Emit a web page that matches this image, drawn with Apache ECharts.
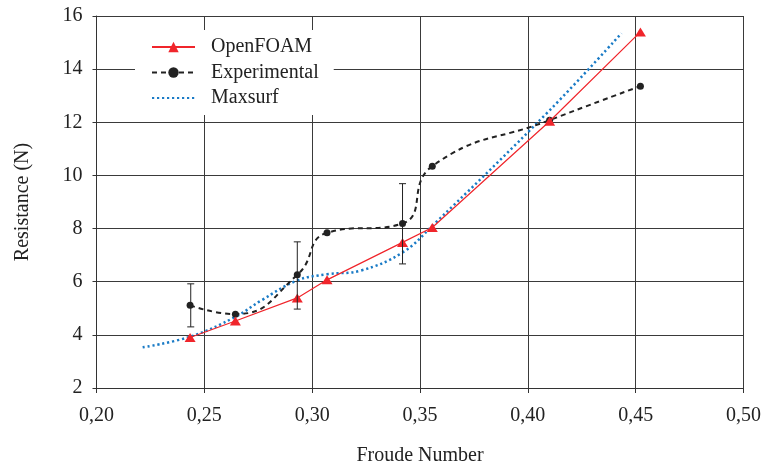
<!DOCTYPE html>
<html>
<head>
<meta charset="utf-8">
<script src="https://cdn.jsdelivr.net/npm/echarts@6/dist/echarts.min.js"></script>
<style>html,body{margin:0;padding:0;background:#fff}#c{width:764px;height:471px}</style>
</head>
<body>
<div id="c"></div>
<script>
// Froude numbers of the CFD / experimental runs
const froudeRuns = [0.2434, 0.2644, 0.2931, 0.3069, 0.3419, 0.3557, 0.4101, 0.4522];
const openFoam = [3.90, 4.52, 5.39, 6.07, 7.48, 8.04, 12.04, 15.40];
const experimental = [5.11, 4.78, 6.26, 7.84, 8.19, 10.35, 12.08, 13.36];
// error bars on experimental data
const errFroude = [0.2437, 0.2931, 0.3419];
const errLow = [4.30, 4.97, 6.67];
const errHigh = [5.92, 7.50, 9.69];
// Maxsurf prediction
const froudeMaxsurf = [0.2214, 0.2434, 0.2645, 0.2765, 0.2931, 0.3069, 0.3226, 0.3419, 0.3557, 0.4101, 0.4434];
const maxsurf = [3.53, 3.93, 4.68, 5.30, 6.05, 6.28, 6.42, 7.10, 8.10, 12.45, 15.35];
// axes
const xMin = 0.20, xMax = 0.50, xStep = 0.05;
const yMin = 2, yMax = 16, yStep = 2;

const FONT = '"Liberation Serif", "DejaVu Serif", serif';
const FS = 20;
const pairs = (xs, ys) => xs.map((x, i) => [x, ys[i]]);

const chart = echarts.init(document.getElementById('c'), null, {renderer: 'canvas'});
chart.setOption({
  animation: false,
  backgroundColor: '#fff',
  textStyle: {fontFamily: FONT},
  grid: {left: 96.5, right: 17.5, top: 16, bottom: 79, containLabel: false},
  legend: {
    orient: 'vertical',
    left: 135, top: 30,
    padding: [7, 15, 7, 16],
    backgroundColor: '#fff',
    itemWidth: 43, itemHeight: 13, itemGap: 5.5,
    data: ['OpenFOAM', 'Experimental', 'Maxsurf'],
    textStyle: {fontFamily: FONT, fontSize: FS, color: '#222', padding: [0, 0, 0, 11]}
  },
  xAxis: {
    type: 'value', min: xMin, max: xMax, interval: xStep,
    name: 'Froude Number', nameLocation: 'middle', nameGap: 58,
    nameTextStyle: {fontFamily: FONT, fontSize: FS, color: '#222'},
    axisLine: {show: true, lineStyle: {color: '#333', width: 1}},
    axisTick: {show: true, inside: false, length: 5, lineStyle: {color: '#333'}},
    axisLabel: {fontFamily: FONT, fontSize: FS, color: '#222', margin: 18,
      formatter: v => v.toFixed(2).replace('.', ',')},
    splitLine: {show: true, lineStyle: {color: '#3a3a3a', width: 1}}
  },
  yAxis: {
    type: 'value', min: yMin, max: yMax, interval: yStep,
    name: 'Resistance (N)', nameLocation: 'middle', nameGap: 64, nameRotate: 90,
    nameTextStyle: {fontFamily: FONT, fontSize: FS, color: '#222'},
    axisLine: {show: true, lineStyle: {color: '#333', width: 1}},
    axisTick: {show: true, inside: false, length: 4, lineStyle: {color: '#333'}},
    axisLabel: {fontFamily: FONT, fontSize: FS, color: '#222', margin: 14},
    splitLine: {show: true, lineStyle: {color: '#3a3a3a', width: 1}}
  },
  series: [
    {
      name: 'Maxsurf', type: 'line', data: pairs(froudeMaxsurf, maxsurf),
      smooth: 0.4, symbol: 'none', showSymbol: false, z: 2,
      lineStyle: {color: '#1a7bc6', width: 2.5, type: [2.2, 2.8]},
      itemStyle: {color: 'rgba(0,0,0,0)'}
    },
    {
      name: 'Experimental', type: 'line', data: pairs(froudeRuns, experimental),
      smooth: 0.5, symbol: 'circle', symbolSize: 7, z: 3,
      lineStyle: {color: '#222', width: 2, type: [5, 4]},
      itemStyle: {color: '#222'}
    },
    {
      name: 'OpenFOAM', type: 'line', data: pairs(froudeRuns, openFoam),
      symbol: 'triangle', symbolSize: [11, 9], z: 4,
      lineStyle: {color: '#f0252b', width: 1.2},
      itemStyle: {color: '#f0252b'}
    },
    {
      name: 'err', type: 'custom', z: 5,
      data: errFroude.map((x, i) => [x, errLow[i], errHigh[i]]),
      renderItem: (params, api) => {
        const lo = api.coord([api.value(0), api.value(1)]);
        const hi = api.coord([api.value(0), api.value(2)]);
        const w = 3.5;
        const st = {stroke: '#222', lineWidth: 1};
        return {type: 'group', children: [
          {type: 'line', shape: {x1: lo[0], y1: lo[1], x2: hi[0], y2: hi[1]}, style: st},
          {type: 'line', shape: {x1: lo[0] - w, y1: lo[1], x2: lo[0] + w, y2: lo[1]}, style: st},
          {type: 'line', shape: {x1: hi[0] - w, y1: hi[1], x2: hi[0] + w, y2: hi[1]}, style: st}
        ]};
      }
    }
  ]
});
</script>
</body>
</html>
